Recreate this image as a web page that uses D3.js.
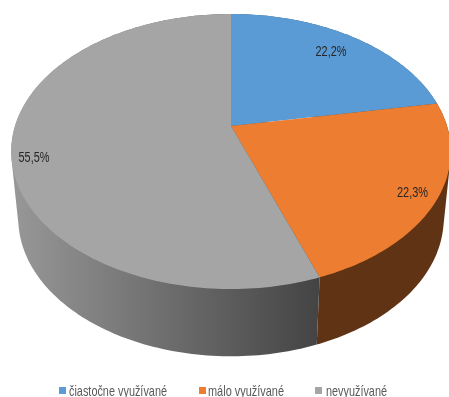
<!DOCTYPE html>
<html>
<head>
<meta charset="utf-8">
<script src="https://cdn.jsdelivr.net/npm/d3@7"></script>
<style>
html,body{margin:0;padding:0;background:#fff;overflow:hidden}
svg{display:block;filter:blur(0.4px)}
text{font-family:"Liberation Sans",sans-serif}
</style>
</head>
<body>
<svg id="chart" width="449" height="397"></svg>
<script>
const categories = ["čiastočne využívané", "málo využívané", "nevyužívané"];
const values = [22.2, 22.3, 55.5];
const valueLabels = ["22,2%", "22,3%", "55,5%"];
const topColors = ["#5B9BD5", "#ED7D31", "#A5A5A5"];

const W = 449, H = 397;
const svg = d3.select("#chart").attr("viewBox", [0, 0, W, H]);
const defs = svg.append("defs");

// perspective projection of the tilted disc
const K = 0.1854, CX = 231;
const topPlane = {a: 216, b: 132.8, y0: 126};
const botPlane = {a: 209, b: 133, y0: 193};
const project = (angle, plane) => {
  const X = Math.sin(angle), Y = Math.cos(angle), d = 1 + K * Y;
  return [CX + plane.a * X / d, plane.y0 - plane.b * Y / d];
};
const arcPts = (a0, a1, plane) => {
  const n = Math.max(2, Math.ceil((a1 - a0) / 0.02));
  return d3.range(n + 1).map(i => project(a0 + (a1 - a0) * i / n, plane));
};

const arcs = d3.pie().sort(null).value(d => d)(values);
const line = d3.line();

const sideGrad = defs.append("linearGradient").attr("id", "sideGrey")
  .attr("gradientUnits", "userSpaceOnUse")
  .attr("x1", 18).attr("x2", 318).attr("y1", 0).attr("y2", 0);
sideGrad.append("stop").attr("offset", 0).attr("stop-color", "#969696");
sideGrad.append("stop").attr("offset", 1).attr("stop-color", "#444444");
const sideFill = ["#2F5575", "#5F3314", "url(#sideGrey)"];

const sides = svg.append("g");
// the swept wall of a slice is the hull of its two rims; top faces hide the rest
arcs.forEach((d, i) => {
  const hull = d3.polygonHull(arcPts(d.startAngle, d.endAngle, topPlane)
    .concat(arcPts(d.startAngle, d.endAngle, botPlane)));
  sides.append("path").attr("d", line(hull) + "Z").attr("fill", sideFill[i]);
});

const tops = svg.append("g");
arcs.forEach((d, i) => {
  const pts = [[CX, topPlane.y0]].concat(arcPts(d.startAngle, d.endAngle, topPlane));
  tops.append("path").attr("d", line(pts) + "Z").attr("fill", topColors[i]);
});

// data labels
const labelAnchors = [[331, 50], [412.5, 191], [34, 156]];
svg.append("g").selectAll("text").data(valueLabels).join("text")
  .attr("x", (d, i) => labelAnchors[i][0])
  .attr("y", (d, i) => labelAnchors[i][1])
  .attr("text-anchor", "middle").attr("dominant-baseline", "central")
  .attr("font-size", 15).attr("textLength", 31).attr("lengthAdjust", "spacingAndGlyphs")
  .attr("fill", "#262626").text(d => d);

// legend
const swatchX = [59, 199, 315], textX = [69, 208, 326], textW = [98, 76, 61];
const legend = svg.append("g");
categories.forEach((c, i) => {
  legend.append("rect").attr("x", swatchX[i]).attr("y", 387).attr("width", 7).attr("height", 7).attr("fill", topColors[i]);
  legend.append("text").attr("x", textX[i]).attr("y", 395.5).attr("font-size", 15)
    .attr("textLength", textW[i]).attr("lengthAdjust", "spacingAndGlyphs")
    .attr("fill", "#595959").text(c);
});
</script>
</body>
</html>
